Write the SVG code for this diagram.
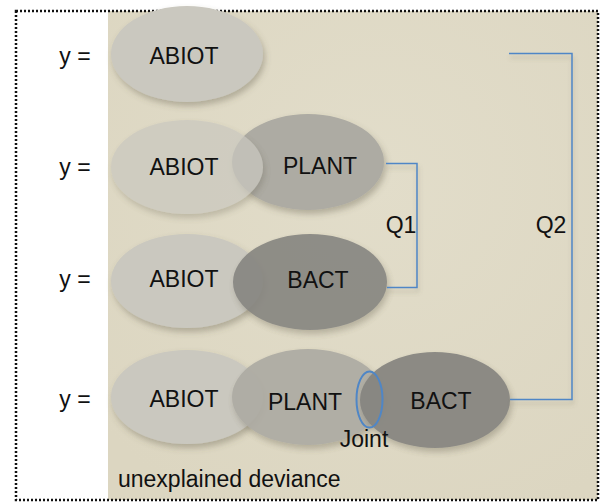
<svg xmlns="http://www.w3.org/2000/svg" width="600" height="504" viewBox="0 0 600 504">
  <defs>
    <radialGradient id="bgGrad" cx="0.55" cy="0.35" r="0.75">
      <stop offset="0" stop-color="#e2ddca"/>
      <stop offset="1" stop-color="#dcd6c1"/>
    </radialGradient>
    <filter id="shadow" x="-20%" y="-20%" width="150%" height="160%">
      <feDropShadow dx="2" dy="4" stdDeviation="3" flood-color="#5a5440" flood-opacity="0.35"/>
    </filter>
    <filter id="lineShadow" x="-10%" y="-50%" width="130%" height="300%">
      <feDropShadow dx="1" dy="4" stdDeviation="2" flood-color="#6a6450" flood-opacity="0.3"/>
    </filter>
  </defs>
  <style>
    .lbl { font-family: "Liberation Sans", Arial, sans-serif; font-size: 23px; fill: #111; }
    .abiot { fill: #cac8bf; filter: url(#shadow); }
    .plant { fill: #adaba3; filter: url(#shadow); }
    .bact { fill: #868580; filter: url(#shadow); }
    .conn { fill: none; stroke: #4f86c6; stroke-width: 1.5; }
  </style>

  <!-- page frame and shaded model area -->
  <rect x="16" y="11" width="582" height="489" fill="#ffffff"/>
  <rect x="108" y="11" width="490" height="489" fill="url(#bgGrad)"/>
  <rect x="16" y="11" width="582" height="489" fill="none" stroke="#111" stroke-width="2.5" stroke-dasharray="2 2"/>

  <!-- row 1 -->
  <g id="row1-abiot">
    <ellipse class="abiot" cx="187" cy="54" rx="76" ry="48"/>
    <text class="lbl" x="184" y="64" text-anchor="middle">ABIOT</text>
  </g>
  <text class="lbl" x="75" y="64" text-anchor="middle">y =</text>

  <!-- row 2 -->
  <g id="row2-plant">
    <ellipse class="plant" cx="308" cy="162" rx="76" ry="48"/>
    <text class="lbl" x="320" y="174" text-anchor="middle">PLANT</text>
  </g>
  <g id="row2-abiot">
    <ellipse class="abiot" cx="187" cy="167" rx="76" ry="47" opacity="0.72"/>
    <text class="lbl" x="184" y="175" text-anchor="middle">ABIOT</text>
  </g>
  <text class="lbl" x="75" y="175" text-anchor="middle">y =</text>

  <!-- row 3 -->
  <g id="row3-abiot">
    <ellipse class="abiot" cx="187" cy="281" rx="76" ry="47"/>
    <text class="lbl" x="184" y="287" text-anchor="middle">ABIOT</text>
  </g>
  <g id="row3-bact">
    <ellipse class="bact" cx="310" cy="282" rx="77" ry="48" opacity="0.9"/>
    <text class="lbl" x="318" y="288" text-anchor="middle">BACT</text>
  </g>
  <text class="lbl" x="75" y="287" text-anchor="middle">y =</text>

  <!-- row 4 -->
  <g id="row4-abiot">
    <ellipse class="abiot" cx="187" cy="397" rx="76" ry="47"/>
    <text class="lbl" x="184" y="407" text-anchor="middle">ABIOT</text>
  </g>
  <g id="row4-plant">
    <ellipse class="plant" cx="308" cy="397" rx="76" ry="48" fill="#b2b0a8" opacity="0.92"/>
    <text class="lbl" x="305" y="410" text-anchor="middle">PLANT</text>
  </g>
  <g id="row4-bact">
    <ellipse class="bact" cx="435" cy="400" rx="75" ry="48" opacity="0.93"/>
    <text class="lbl" x="441" y="409" text-anchor="middle">BACT</text>
  </g>
  <g id="joint">
    <ellipse cx="369.5" cy="399.5" rx="13" ry="28" fill="none" stroke="#4f86c6" stroke-width="2"/>
    <text class="lbl" x="364" y="447" text-anchor="middle">Joint</text>
  </g>
  <text class="lbl" x="75" y="407" text-anchor="middle">y =</text>

  <!-- comparison brackets -->
  <g id="connectors">
    <path class="conn" filter="url(#lineShadow)" d="M386 163.5 H417 V287.5 H387"/>
    <path class="conn" filter="url(#lineShadow)" d="M509 53.5 H572 V399.5 H510"/>
    <path class="conn" filter="url(#lineShadow)" d="M540 164.5 H572"/>
    <path class="conn" filter="url(#lineShadow)" d="M540 288 H572"/>
  </g>
  <text class="lbl" x="401" y="233" text-anchor="middle">Q1</text>
  <text class="lbl" x="551" y="233" text-anchor="middle">Q2</text>

  <text class="lbl" x="118" y="487">unexplained deviance</text>
</svg>
